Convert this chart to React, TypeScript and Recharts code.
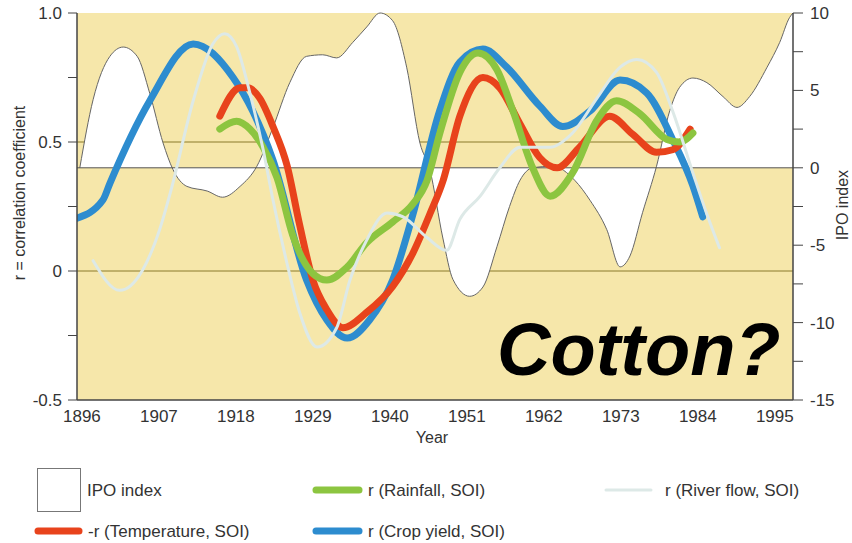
import React from 'react';
import { ComposedChart, Line, Area, XAxis, YAxis, CartesianGrid, ReferenceLine } from 'recharts';

// axis ticks
const yearTicks = [1896, 1907, 1918, 1929, 1940, 1951, 1962, 1973, 1984, 1995];
const rTicks = [-0.5, -0.25, 0, 0.25, 0.5, 0.75, 1];
const ipoTicks = [-15, -12.5, -10, -7.5, -5, -2.5, 0, 2.5, 5, 7.5, 10];

// IPO index (right axis)
const ipoYears = [1895.7, 1897.6, 1900, 1901.9, 1903.9, 1905.7, 1907.6, 1909, 1911, 1913.9, 1916.1, 1918.6, 1921, 1923.3, 1925.7, 1928.1, 1930.4, 1932.4, 1934.7, 1936.7, 1938.6, 1940.4, 1942.4, 1944.3, 1945.7, 1947.6, 1949, 1951.4, 1953.3, 1955.3, 1957.1, 1958.6, 1960.4, 1963.3, 1966.4, 1968.6, 1971, 1972.9, 1974.3, 1976.1, 1978.1, 1980, 1981.4, 1983.3, 1985.3, 1987.6, 1989.6, 1991.4, 1993.9, 1995.7, 1997.1, 1997.6];
const ipoValues = [0, 4.4, 7.2, 7.8, 7.2, 4.8, 1.6, -0.1, -1.2, -1.5, -1.9, -1.2, 0.1, 2.6, 5.5, 7.2, 7.3, 7.1, 8.1, 9.1, 10, 9.5, 6.5, 1.6, -0.1, -4.6, -7.2, -8.3, -7.7, -5.1, -2.5, -0.8, 0, 0.1, -0.8, -2.1, -4, -6.4, -5.7, -2.9, 0.1, 3.7, 5.2, 5.8, 5.5, 4.6, 3.9, 4.6, 6.5, 8.1, 9.7, 10];

// r (Crop yield, SOI)
const cropYears = [1895.3, 1899, 1900, 1905.7, 1911.9, 1917.6, 1920.4, 1923.3, 1928.1, 1931, 1933.9, 1937.1, 1940.4, 1943.3, 1947.1, 1950, 1953.3, 1956.7, 1961.4, 1964.7, 1968.6, 1972.9, 1976.7, 1980.4, 1983.3, 1984.7];
const cropValues = [0.205, 0.275, 0.34, 0.66, 0.88, 0.75, 0.62, 0.43, -0.035, -0.19, -0.26, -0.19, -0.035, 0.22, 0.62, 0.81, 0.86, 0.79, 0.64, 0.56, 0.62, 0.74, 0.69, 0.51, 0.33, 0.21];

// -r (Temperature, SOI)
const tempYears = [1915.7, 1918.6, 1919.7, 1921.4, 1923.3, 1925.3, 1927.1, 1929, 1931, 1933.3, 1936.7, 1940.4, 1943.3, 1945.7, 1947.6, 1950, 1953.3, 1955.7, 1958.6, 1961.4, 1963.9, 1967.1, 1971.4, 1974.7, 1978.1, 1980.4, 1982.9];
const tempValues = [0.6, 0.71, 0.71, 0.67, 0.56, 0.41, 0.18, -0.035, -0.15, -0.22, -0.16, -0.06, 0.07, 0.22, 0.35, 0.6, 0.75, 0.71, 0.57, 0.44, 0.4, 0.48, 0.6, 0.53, 0.46, 0.47, 0.55];

// r (Rainfall, SOI)
const rainYears = [1915.7, 1918.1, 1920, 1921.9, 1923.9, 1926.1, 1929, 1931, 1933.9, 1936.7, 1940.4, 1943.3, 1945.3, 1947.1, 1950, 1952.6, 1955.3, 1957.6, 1960.4, 1962.9, 1966.1, 1969.6, 1972.4, 1975.7, 1979.6, 1981.4, 1983.3];
const rainValues = [0.55, 0.58, 0.55, 0.48, 0.36, 0.14, -0.01, -0.035, 0.015, 0.11, 0.19, 0.26, 0.35, 0.53, 0.77, 0.845, 0.78, 0.62, 0.4, 0.29, 0.38, 0.585, 0.66, 0.61, 0.51, 0.5, 0.535];

// r (River flow, SOI)
const riverYears = [1897.6, 1901.4, 1904.7, 1907.1, 1908.7, 1911.9, 1914.7, 1916.4, 1918.1, 1920, 1921.9, 1923.3, 1925.3, 1927.1, 1929.6, 1932.4, 1934.3, 1936.7, 1939.6, 1941.9, 1945.3, 1948.1, 1950, 1952.9, 1955.7, 1958.6, 1962.9, 1966.1, 1969.6, 1972.9, 1975.3, 1978.1, 1980.4, 1983.3, 1985.3, 1987.1];
const riverValues = [0.04, -0.075, 0.005, 0.16, 0.31, 0.66, 0.88, 0.92, 0.87, 0.69, 0.47, 0.275, 0.03, -0.16, -0.295, -0.22, -0.035, 0.12, 0.225, 0.21, 0.13, 0.08, 0.2, 0.29, 0.4, 0.48, 0.48, 0.535, 0.67, 0.79, 0.82, 0.77, 0.62, 0.38, 0.22, 0.09];

const toPoints = (years: number[], values: number[]) => years.map((year, i) => ({ year, value: values[i] }));

const ipoData = toPoints(ipoYears, ipoValues);
const cropData = toPoints(cropYears, cropValues);
const tempData = toPoints(tempYears, tempValues);
const rainData = toPoints(rainYears, rainValues);
const riverData = toPoints(riverYears, riverValues);

const BG = '#f6e7aa';
const AXIS = '#444';
const BLUE = '#2d8ccf';
const RED = '#e8431c';
const GREEN = '#8cc540';
const RIVER = '#dde9e7';
const FONT = '"Liberation Sans", Arial, Helvetica, sans-serif';

const fmtR = (v: number) => (v === 0 ? '0' : Math.abs(v * 2 - Math.round(v * 2)) > 1e-6 ? '' : v.toFixed(1));
const fmtIpo = (v: number) => (v % 5 === 0 ? String(v) : '');

const App = () => {
    const tickStyle = { fill: '#333', fontSize: 17, fontFamily: FONT };
    return (
        <div style={{ position: 'absolute', left: 0, top: 0, width: 852, height: 543, background: '#fff', fontFamily: FONT }}>
            <ComposedChart width={852} height={460} margin={{ top: 13, right: 0, left: 0, bottom: 15 }}>
                <CartesianGrid horizontalValues={[0, 0.5]} vertical={false} fill={BG} fillOpacity={1} stroke="#8a7a2a" strokeWidth={1} />
                <XAxis
                    dataKey="year"
                    type="number"
                    domain={[1895.3, 1997.6]}
                    allowDataOverflow
                    ticks={yearTicks}
                    tickSize={0}
                    tickMargin={10}
                    height={45}
                    tick={tickStyle}
                    axisLine={{ stroke: AXIS, strokeWidth: 1.5 }}
                />
                <XAxis xAxisId="top" orientation="top" dataKey="year" type="number" domain={[1895.3, 1997.6]} allowDataOverflow height={0} tick={false} tickLine={false} axisLine={{ stroke: AXIS, strokeWidth: 1.5 }} />
                <YAxis
                    type="number"
                    domain={[-0.5, 1]}
                    ticks={rTicks}
                    tickFormatter={fmtR}
                    width={77}
                    tickSize={9}
                    tickMargin={6}
                    tick={tickStyle}
                    tickLine={{ stroke: AXIS }}
                    axisLine={{ stroke: AXIS, strokeWidth: 1.5 }}
                />
                <YAxis
                    yAxisId="right"
                    orientation="right"
                    type="number"
                    domain={[-15, 10]}
                    ticks={ipoTicks}
                    tickFormatter={fmtIpo}
                    width={59}
                    tickSize={10}
                    tickMargin={7}
                    tick={tickStyle}
                    tickLine={{ stroke: AXIS }}
                    axisLine={{ stroke: AXIS, strokeWidth: 1.5 }}
                />
                <Area yAxisId="right" data={ipoData} dataKey="value" type="monotone" baseValue={0} fill="#ffffff" fillOpacity={1} stroke="#666" strokeWidth={1} isAnimationActive={false} />
                <ReferenceLine yAxisId="right" y={0} stroke="#555" strokeWidth={1} />
                <Line data={cropData} dataKey="value" type="monotone" stroke={BLUE} strokeWidth={7} strokeLinecap="round" dot={false} isAnimationActive={false} />
                <Line data={tempData} dataKey="value" type="monotone" stroke={RED} strokeWidth={7} strokeLinecap="round" dot={false} isAnimationActive={false} />
                <Line data={rainData} dataKey="value" type="monotone" stroke={GREEN} strokeWidth={7} strokeLinecap="round" dot={false} isAnimationActive={false} />
                <Line data={riverData} dataKey="value" type="monotone" stroke={RIVER} strokeWidth={3} strokeLinecap="round" dot={false} isAnimationActive={false} />
            </ComposedChart>

            <svg width={852} height={543} style={{ position: 'absolute', left: 0, top: 0, pointerEvents: 'none' }}>
                <text x={19} y={193} transform="rotate(-90 19 193)" textAnchor="middle" dominantBaseline="central" fontSize={16} fill="#333">r = correlation coefficient</text>
                <text x={842} y={205} transform="rotate(-90 842 205)" textAnchor="middle" dominantBaseline="central" fontSize={16} fill="#333">IPO index</text>
                <text x={432} y={437} textAnchor="middle" dominantBaseline="central" fontSize={16} fill="#333">Year</text>
                <text x={497} y={375} fontSize={74} fontWeight="bold" fontStyle="italic" fill="#000">Cotton?</text>

                {/* legend */}
                <rect x={37.5} y={468.5} width={43} height={43} fill="#fff" stroke="#777" />
                <text x={87} y={490} dominantBaseline="central" fontSize={17} fill="#333">IPO index</text>
                <line x1={316} y1={490} x2={359} y2={490} stroke={GREEN} strokeWidth={7} strokeLinecap="round" />
                <text x={368} y={490} dominantBaseline="central" fontSize={17} fill="#333">r (Rainfall, SOI)</text>
                <line x1={606} y1={490} x2={651} y2={490} stroke={RIVER} strokeWidth={3} strokeLinecap="round" />
                <text x={665} y={490} dominantBaseline="central" fontSize={17} fill="#333">r (River flow, SOI)</text>
                <line x1={38} y1={531} x2={79} y2={531} stroke={RED} strokeWidth={7} strokeLinecap="round" />
                <text x={88} y={531} dominantBaseline="central" fontSize={17} fill="#333">-r (Temperature, SOI)</text>
                <line x1={316} y1={531} x2={359} y2={531} stroke={BLUE} strokeWidth={7} strokeLinecap="round" />
                <text x={368} y={531} dominantBaseline="central" fontSize={17} fill="#333">r (Crop yield, SOI)</text>
            </svg>
        </div>
    );
};

export default App;
